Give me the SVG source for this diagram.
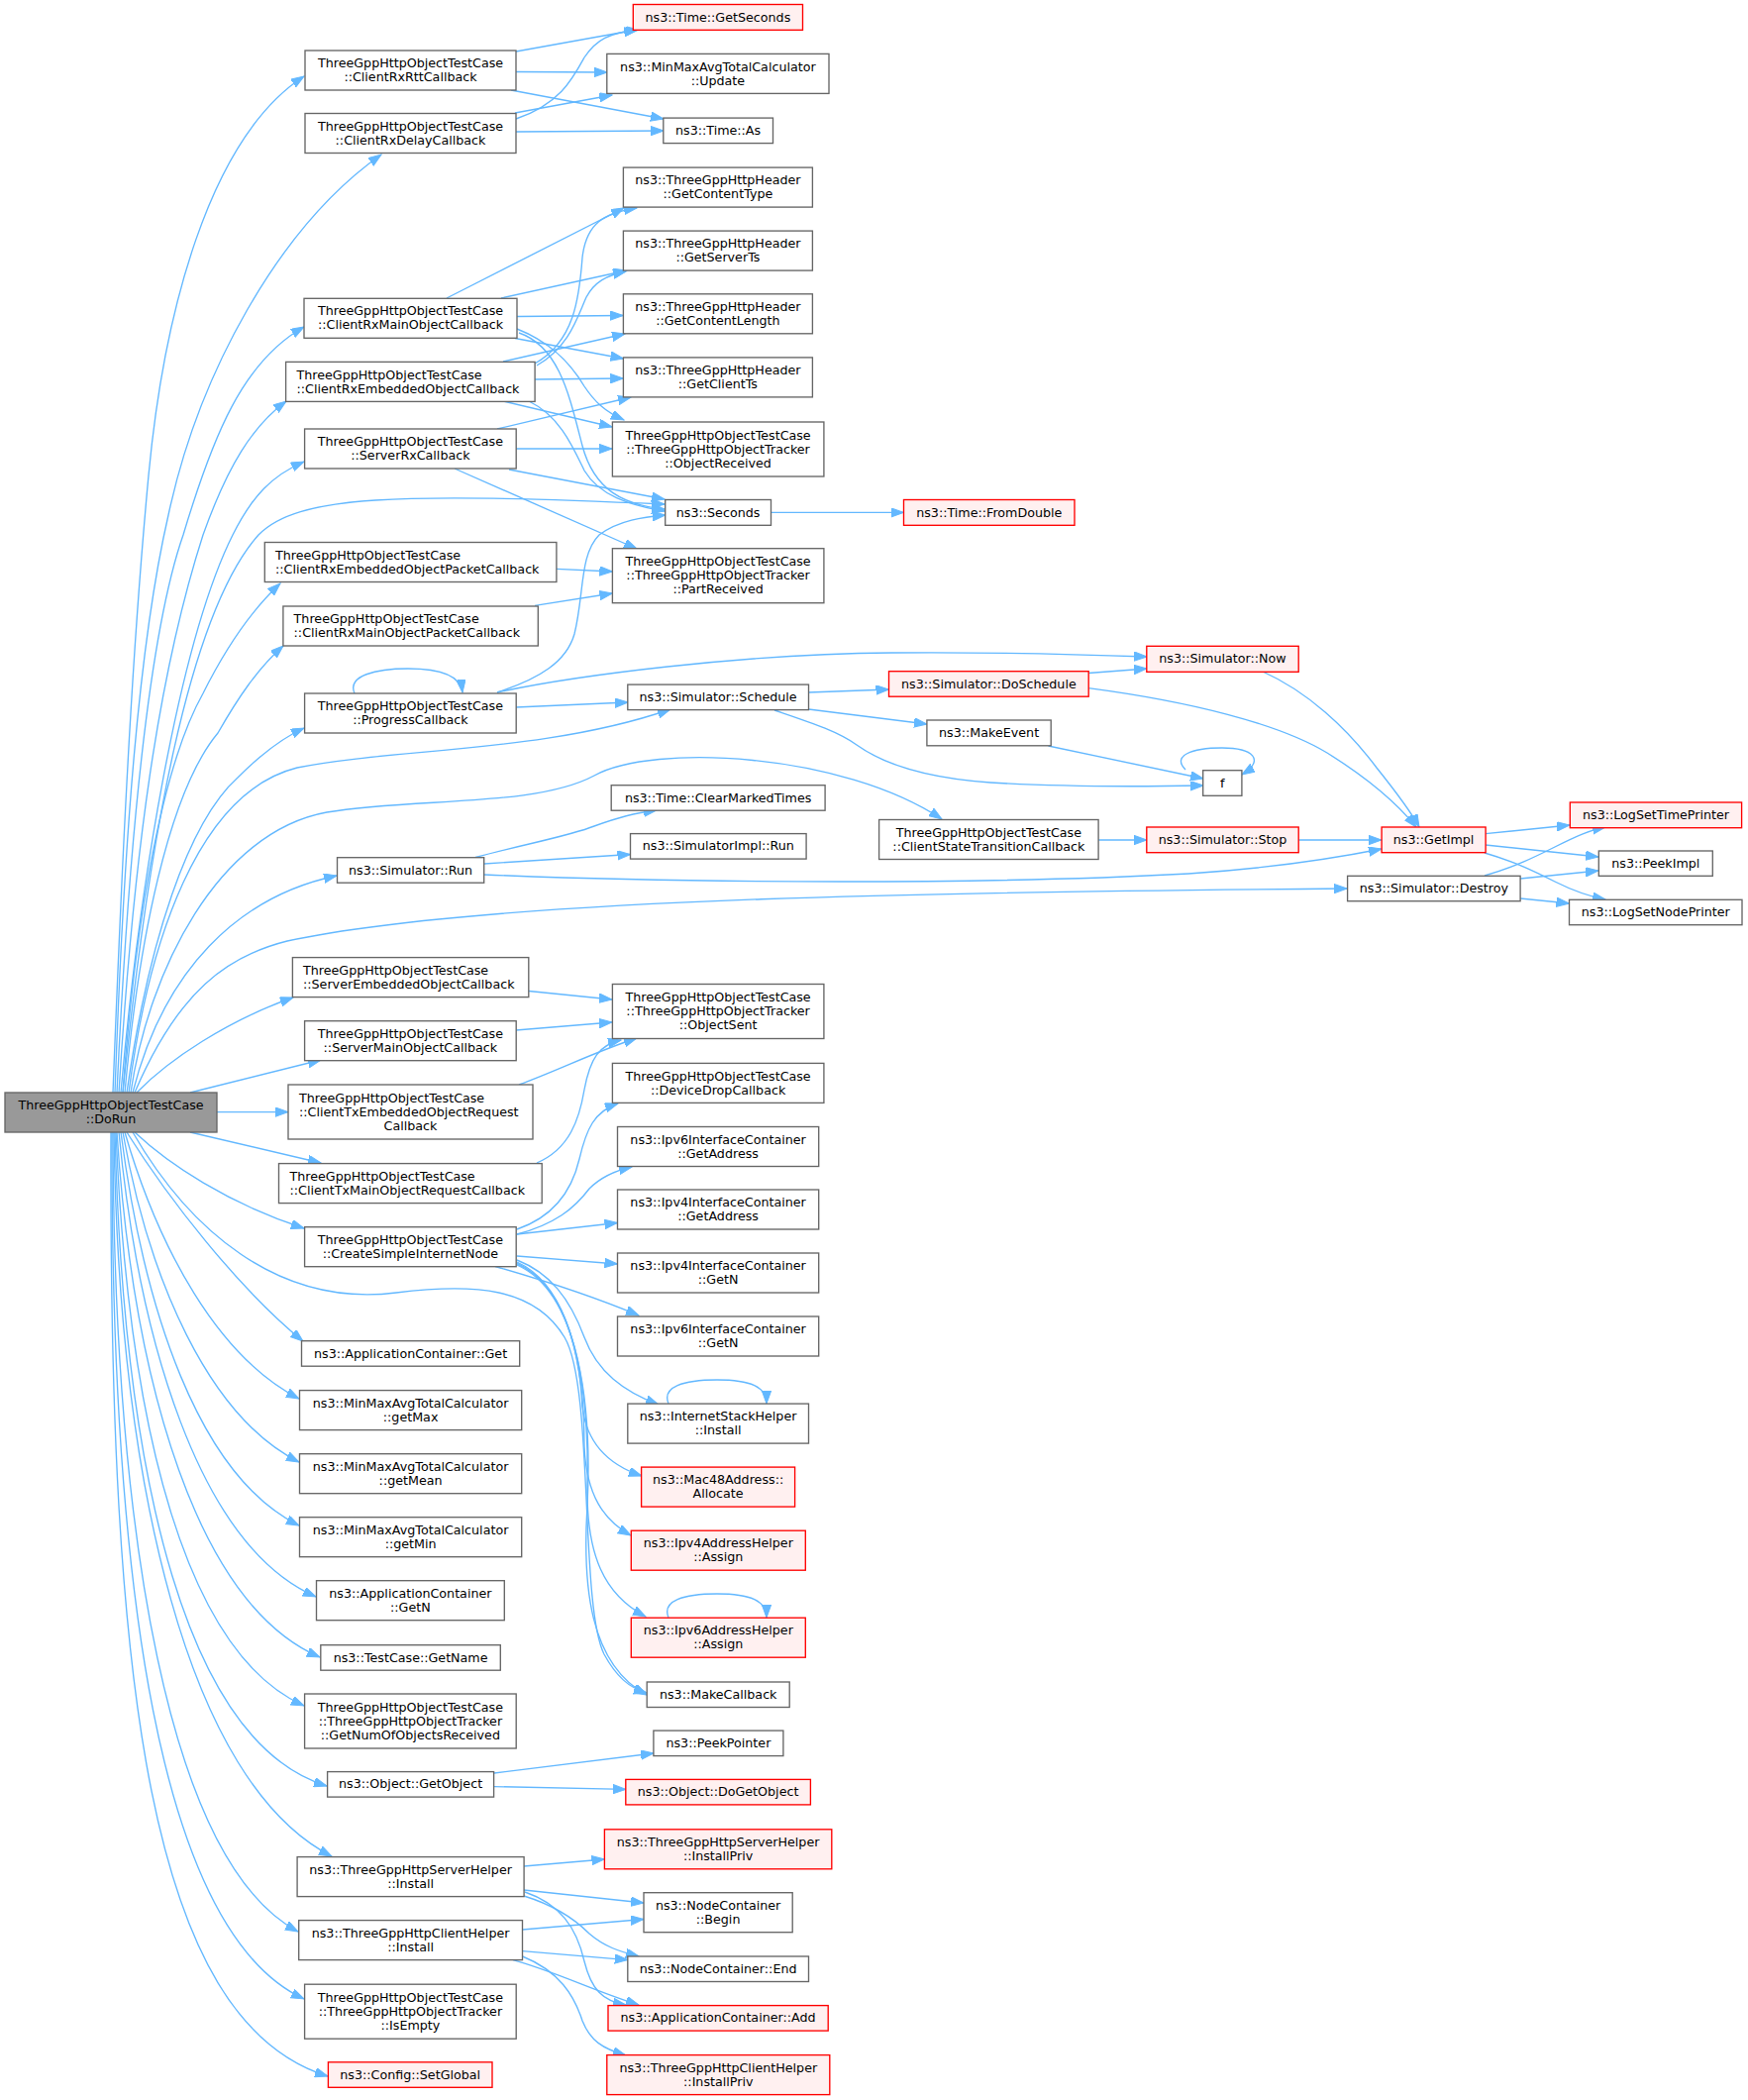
<svg xmlns="http://www.w3.org/2000/svg" width="1765" height="2120" viewBox="0 0 1765 2120">
<style>
rect{fill:#ffffff;stroke:#666666;stroke-width:1.35}
.r rect{fill:#fff0f0;stroke:#ff0000}
.root rect{fill:#999999;stroke:#666666}
text{font-family:"DejaVu Sans","Liberation Sans",sans-serif;font-size:12.7px;fill:#000000}
.c text{text-anchor:middle}
.l text{text-anchor:start}
#edges path{fill:none;stroke:#63b8ff;stroke-width:1.35;marker-end:url(#a)}
</style>
<defs>
<marker id="a" markerUnits="userSpaceOnUse" viewBox="0 0 14 10" markerWidth="14" markerHeight="10" refX="13" refY="4.7" orient="auto">
<path d="M0,0 L13,4.7 L0,9.4 z" fill="#63b8ff" stroke="#63b8ff" stroke-width="1"/>
</marker>
</defs>
<rect x="0" y="0" width="1765" height="2120" style="fill:#ffffff;stroke:none"/>
<g id="edges">
<path d="M114,1103 C125,820 135,640 150,480 C165,320 210,140 307,77"/>
<path d="M116,1103 C125,850 140,650 170,520 C200,380 280,230 385,156"/>
<path d="M118,1103 C130,850 150,640 185,540 C215,440 245,365 307,330"/>
<path d="M120,1103 C135,860 160,680 205,540 C230,470 255,430 289,405"/>
<path d="M122,1103 C140,900 180,650 235,540 C255,500 275,480 307,466"/>
<path d="M124,1103 C150,850 190,620 261,540 C300,500 400,497 671,509"/>
<path d="M124,1103 C135,950 160,780 205,700 C230,650 255,615 283,589"/>
<path d="M126,1103 C140,950 170,800 220,740 C240,705 260,675 286,652"/>
<path d="M128,1103 C150,950 190,830 240,785 C265,760 285,745 307,735"/>
<path d="M130,1103 C150,950 200,800 300,775 C400,755 550,760 677,716"/>
<path d="M132,1103 C150,980 220,840 330,820 C420,805 540,815 600,783 C660,750 850,760 951,827"/>
<path d="M134,1103 C165,980 240,905 340,884"/>
<path d="M136,1103 C180,1000 230,965 290,950 C500,905 1000,900 1360,897"/>
<path d="M138,1103 C170,1070 230,1030 296,1007"/>
<path d="M192,1103 L324,1070"/>
<path d="M219,1122.6 L291,1122.6"/>
<path d="M192,1143 L324,1174"/>
<path d="M136,1143 C170,1175 230,1215 307,1240"/>
<path d="M134,1143 C190,1240 280,1320 400,1305 C480,1295 540,1300 570,1350 C600,1400 585,1620 610,1670 C622,1692 635,1704 653,1709"/>
<path d="M128,1143 C170,1210 240,1300 306,1354"/>
<path d="M126,1143 C160,1260 220,1370 302,1412"/>
<path d="M124,1143 C150,1290 210,1430 302,1476"/>
<path d="M122,1143 C145,1320 200,1490 302,1540"/>
<path d="M120,1143 C140,1350 200,1560 319,1612"/>
<path d="M118,1143 C135,1400 200,1620 323,1673"/>
<path d="M117,1143 C130,1450 190,1670 307,1722"/>
<path d="M116,1143 C125,1500 190,1760 330,1803"/>
<path d="M115,1143 C120,1500 190,1800 335,1874"/>
<path d="M114,1143 C115,1550 170,1880 301,1950"/>
<path d="M113,1143 C112,1600 160,1950 307,2018"/>
<path d="M112,1143 C110,1700 150,2040 331,2096"/>
<path d="M521,52 L643,30"/>
<path d="M521,72.5 L613,73"/>
<path d="M516,91 L670,120"/>
<path d="M521,120 C565,105 578,80 590,58 C602,40 615,33 645,30"/>
<path d="M520,114 L618,96"/>
<path d="M521,133 L670,132"/>
<path d="M451,301 L630,210"/>
<path d="M506,301 L633,273"/>
<path d="M522,319.5 L629,318.5"/>
<path d="M520,341.5 L629.5,362"/>
<path d="M522,332 C555,345 575,365 590,390 C600,405 610,415 630,424"/>
<path d="M524,336 C565,350 575,400 588,450 C600,495 630,510 671,514"/>
<path d="M540,367 C580,345 585,300 588,260 C592,225 610,215 643,210"/>
<path d="M542,369 C575,350 583,320 592,300 C600,285 612,278 632,274"/>
<path d="M508,365 L631,337"/>
<path d="M540,383 L629.4,382"/>
<path d="M508,405 L618,431"/>
<path d="M534,405 C565,420 578,450 590,475 C605,500 635,510 671,516"/>
<path d="M502,433 L637,401"/>
<path d="M521,453 L618,453"/>
<path d="M514,474 L671,504"/>
<path d="M459,473 L643,554"/>
<path d="M778.5,517.4 L912.5,517.4"/>
<path d="M562,574.4 L618.4,577"/>
<path d="M540,611.3 L618.4,599"/>
<path d="M358,700 C350,682 380,675 412,675 C445,675 465,682 467,699"/>
<path d="M502,699 C545,685 572,668 580,640 C590,600 585,560 605,540 C625,525 650,522 672,520"/>
<path d="M502,699 C580,682 750,660 900,659 C1000,658 1100,661 1158,663"/>
<path d="M521,714 L634,709"/>
<path d="M816.5,699 L897.5,696"/>
<path d="M816.5,716 L936,731"/>
<path d="M782,717 C820,730 845,738 865,752 C890,770 930,785 1000,790 C1080,795 1160,794 1215,793"/>
<path d="M1099,679.5 L1158,675"/>
<path d="M1099,694.6 C1200,708 1290,730 1340,760 C1380,785 1410,810 1430,835"/>
<path d="M1058.5,753 L1215,786"/>
<path d="M1197,777 C1183,763 1203,755 1234,755 C1265,755 1278,767 1254,782"/>
<path d="M1275,678 C1320,698 1360,735 1390,775 C1410,800 1425,820 1433,835"/>
<path d="M1109,848 L1158,848"/>
<path d="M1311,848 L1395,848"/>
<path d="M489,883 C700,892 1000,893 1200,882 C1290,876 1350,866 1395,857"/>
<path d="M480,865.5 C530,852 575,844 600,834 C625,825 640,821 663,818"/>
<path d="M489,872 L636.5,862.5"/>
<path d="M1500,841.7 L1585,833"/>
<path d="M1500,853 L1614,865"/>
<path d="M1499,861 C1530,870 1550,880 1570,890 C1590,900 1605,905 1621,908"/>
<path d="M1499,884 C1530,875 1550,865 1570,855 C1590,845 1605,838 1621,835"/>
<path d="M1535,887 L1614,879"/>
<path d="M1535,907 L1584.5,912"/>
<path d="M534,1000.5 L618,1009"/>
<path d="M521,1040 L618,1032"/>
<path d="M524,1095 C565,1080 600,1062 643,1048"/>
<path d="M542,1174 C575,1160 585,1130 590,1100 C596,1068 605,1055 627,1050"/>
<path d="M522,1241 C560,1228 578,1200 585,1170 C592,1140 600,1122 624,1114"/>
<path d="M522,1246 C560,1236 580,1220 595,1200 C607,1188 620,1182 638,1178"/>
<path d="M522,1246 L623.5,1234.5"/>
<path d="M522,1268 L623.5,1276"/>
<path d="M500,1278.5 C540,1290 590,1305 645,1328"/>
<path d="M522,1272 C555,1285 575,1310 590,1350 C603,1385 630,1405 665,1418"/>
<path d="M522,1274 C568,1295 585,1360 588,1420 C592,1455 612,1478 648,1490"/>
<path d="M522,1275 C575,1300 590,1380 590,1460 C592,1510 610,1535 637,1550"/>
<path d="M522,1276 C580,1300 595,1400 593,1500 C592,1570 610,1610 652,1632"/>
<path d="M522,1277 C585,1305 598,1420 593,1520 C588,1600 595,1680 653,1711"/>
<path d="M675,1417 C668,1400 690,1393 724,1393 C758,1393 774,1400 774,1417"/>
<path d="M675,1633 C668,1616 690,1609 724,1609 C758,1609 774,1616 774,1633"/>
<path d="M499,1790 L660,1770"/>
<path d="M499,1803.6 L632,1806.4"/>
<path d="M529,1884 L610.4,1877"/>
<path d="M529,1908 L650,1921"/>
<path d="M529,1914 C555,1922 578,1935 595,1952 C610,1965 625,1970 645,1975"/>
<path d="M530,1910 C565,1922 582,1945 590,1980 C597,2008 608,2020 632,2024"/>
<path d="M527.5,1948 L650,1937.5"/>
<path d="M527.5,1969.6 L633.8,1978.6"/>
<path d="M518,1978.6 C560,1990 600,2010 645,2024"/>
<path d="M527.5,1975 C565,1990 580,2015 588,2040 C596,2060 608,2068 632,2075"/>
</g>
<g id="n_dorun" class="root c"><rect x="5" y="1103" width="214" height="40"/><text x="112" y="1120.1">ThreeGppHttpObjectTestCase</text><text x="112" y="1134.1">::DoRun</text></g>
<g id="n_rtt" class="c"><rect x="308" y="51" width="213" height="40"/><text x="414.5" y="68.1">ThreeGppHttpObjectTestCase</text><text x="414.5" y="82.1">::ClientRxRttCallback</text></g>
<g id="n_delay" class="c"><rect x="308" y="114.5" width="213" height="40"/><text x="414.5" y="131.6">ThreeGppHttpObjectTestCase</text><text x="414.5" y="145.6">::ClientRxDelayCallback</text></g>
<g id="n_mainobj" class="c"><rect x="307" y="301.3" width="215" height="40"/><text x="414.5" y="318.4">ThreeGppHttpObjectTestCase</text><text x="414.5" y="332.4">::ClientRxMainObjectCallback</text></g>
<g id="n_embobj" class="l"><rect x="288.6" y="365.4" width="251.5" height="40"/><text x="299.5" y="382.5">ThreeGppHttpObjectTestCase</text><text x="299.5" y="396.5">::ClientRxEmbeddedObjectCallback</text></g>
<g id="n_serverrx" class="c"><rect x="307.6" y="433" width="213.6" height="40"/><text x="414.4" y="450.1">ThreeGppHttpObjectTestCase</text><text x="414.4" y="464.1">::ServerRxCallback</text></g>
<g id="n_embpkt" class="l"><rect x="267.3" y="547.5" width="294.6" height="40"/><text x="278" y="564.6">ThreeGppHttpObjectTestCase</text><text x="278" y="578.6">::ClientRxEmbeddedObjectPacketCallback</text></g>
<g id="n_mainpkt" class="l"><rect x="285.9" y="612" width="257.4" height="40"/><text x="296.6" y="629.1">ThreeGppHttpObjectTestCase</text><text x="296.6" y="643.1">::ClientRxMainObjectPacketCallback</text></g>
<g id="n_progress" class="c"><rect x="307.6" y="700" width="213.6" height="40"/><text x="414.4" y="717.1">ThreeGppHttpObjectTestCase</text><text x="414.4" y="731.1">::ProgressCallback</text></g>
<g id="n_simrun" class="c"><rect x="340.5" y="865.7" width="148.2" height="25.5"/><text x="414.6" y="882.5">ns3::Simulator::Run</text></g>
<g id="n_serveremb" class="l"><rect x="295.4" y="966.6" width="238.4" height="40"/><text x="306" y="983.7">ThreeGppHttpObjectTestCase</text><text x="306" y="997.7">::ServerEmbeddedObjectCallback</text></g>
<g id="n_servermain" class="c"><rect x="307.6" y="1030.7" width="213.6" height="40"/><text x="414.4" y="1047.8">ThreeGppHttpObjectTestCase</text><text x="414.4" y="1061.8">::ServerMainObjectCallback</text></g>
<g id="n_txemb"><rect x="291" y="1095" width="247" height="55"/><text x="302" y="1112.6">ThreeGppHttpObjectTestCase</text><text x="302" y="1126.6">::ClientTxEmbeddedObjectRequest</text><text x="414.5" y="1140.6" style="text-anchor:middle">Callback</text></g>
<g id="n_txmain" class="l"><rect x="281.5" y="1174.6" width="265.7" height="40"/><text x="292.5" y="1191.7">ThreeGppHttpObjectTestCase</text><text x="292.5" y="1205.7">::ClientTxMainObjectRequestCallback</text></g>
<g id="n_create" class="c"><rect x="307.6" y="1238.7" width="213.6" height="40"/><text x="414.4" y="1255.8">ThreeGppHttpObjectTestCase</text><text x="414.4" y="1269.8">::CreateSimpleInternetNode</text></g>
<g id="n_appget" class="c"><rect x="304.5" y="1353.7" width="220.2" height="25.5"/><text x="414.6" y="1370.5">ns3::ApplicationContainer::Get</text></g>
<g id="n_getmax" class="c"><rect x="302.5" y="1403.6" width="224.2" height="40"/><text x="414.6" y="1420.7">ns3::MinMaxAvgTotalCalculator</text><text x="414.6" y="1434.7">::getMax</text></g>
<g id="n_getmean" class="c"><rect x="302.5" y="1467.7" width="224.2" height="40"/><text x="414.6" y="1484.8">ns3::MinMaxAvgTotalCalculator</text><text x="414.6" y="1498.8">::getMean</text></g>
<g id="n_getmin" class="c"><rect x="302.5" y="1531.7" width="224.2" height="40"/><text x="414.6" y="1548.8">ns3::MinMaxAvgTotalCalculator</text><text x="414.6" y="1562.8">::getMin</text></g>
<g id="n_appgetn" class="c"><rect x="319.5" y="1595.7" width="189.8" height="40"/><text x="414.4" y="1612.8">ns3::ApplicationContainer</text><text x="414.4" y="1626.8">::GetN</text></g>
<g id="n_getname" class="c"><rect x="323.8" y="1660.7" width="181.5" height="25.5"/><text x="414.6" y="1677.5">ns3::TestCase::GetName</text></g>
<g id="n_getnum" class="c"><rect x="307.6" y="1710" width="213.6" height="55"/><text x="414.4" y="1727.6">ThreeGppHttpObjectTestCase</text><text x="414.4" y="1741.6">::ThreeGppHttpObjectTracker</text><text x="414.4" y="1755.6">::GetNumOfObjectsReceived</text></g>
<g id="n_getobject" class="c"><rect x="330.6" y="1788.6" width="168" height="25.5"/><text x="414.6" y="1805.4">ns3::Object::GetObject</text></g>
<g id="n_serverinst" class="c"><rect x="300.1" y="1874.6" width="229" height="40"/><text x="414.6" y="1891.7">ns3::ThreeGppHttpServerHelper</text><text x="414.6" y="1905.7">::Install</text></g>
<g id="n_clientinst" class="c"><rect x="301.7" y="1938.6" width="225.8" height="40"/><text x="414.6" y="1955.7">ns3::ThreeGppHttpClientHelper</text><text x="414.6" y="1969.7">::Install</text></g>
<g id="n_isempty" class="c"><rect x="307.6" y="2003.2" width="213.6" height="55"/><text x="414.4" y="2020.8">ThreeGppHttpObjectTestCase</text><text x="414.4" y="2034.8">::ThreeGppHttpObjectTracker</text><text x="414.4" y="2048.8">::IsEmpty</text></g>
<g id="n_setglobal" class="r c"><rect x="331.4" y="2081.8" width="165.6" height="25.5"/><text x="414.2" y="2098.6">ns3::Config::SetGlobal</text></g>
<g id="n_getseconds" class="r c"><rect x="639.3" y="4.5" width="171.2" height="25.8"/><text x="724.9" y="21.5">ns3::Time::GetSeconds</text></g>
<g id="n_update" class="c"><rect x="612.8" y="54.4" width="224.2" height="40"/><text x="724.9" y="71.5">ns3::MinMaxAvgTotalCalculator</text><text x="724.9" y="85.5">::Update</text></g>
<g id="n_timeas" class="c"><rect x="669.8" y="119.1" width="110.7" height="25.5"/><text x="725.1" y="135.9">ns3::Time::As</text></g>
<g id="n_contenttype" class="c"><rect x="629.4" y="169.1" width="191" height="40"/><text x="724.9" y="186.2">ns3::ThreeGppHttpHeader</text><text x="724.9" y="200.2">::GetContentType</text></g>
<g id="n_serverts" class="c"><rect x="629.4" y="233.1" width="191" height="40"/><text x="724.9" y="250.2">ns3::ThreeGppHttpHeader</text><text x="724.9" y="264.2">::GetServerTs</text></g>
<g id="n_contentlength" class="c"><rect x="629.4" y="296.8" width="191" height="40"/><text x="724.9" y="313.9">ns3::ThreeGppHttpHeader</text><text x="724.9" y="327.9">::GetContentLength</text></g>
<g id="n_clientts" class="c"><rect x="629.4" y="360.9" width="191" height="40"/><text x="724.9" y="378">ns3::ThreeGppHttpHeader</text><text x="724.9" y="392">::GetClientTs</text></g>
<g id="n_objrecv" class="c"><rect x="618.4" y="426" width="213.5" height="55"/><text x="725.1" y="443.6">ThreeGppHttpObjectTestCase</text><text x="725.1" y="457.6">::ThreeGppHttpObjectTracker</text><text x="725.1" y="471.6">::ObjectReceived</text></g>
<g id="n_seconds" class="c"><rect x="671.7" y="504.5" width="106.8" height="25.8"/><text x="725.1" y="521.5">ns3::Seconds</text></g>
<g id="n_partrecv" class="c"><rect x="618.4" y="553.7" width="213.5" height="55"/><text x="725.1" y="571.3">ThreeGppHttpObjectTestCase</text><text x="725.1" y="585.3">::ThreeGppHttpObjectTracker</text><text x="725.1" y="599.3">::PartReceived</text></g>
<g id="n_schedule" class="c"><rect x="633.8" y="691.1" width="182.7" height="25.5"/><text x="725.1" y="707.9">ns3::Simulator::Schedule</text></g>
<g id="n_clearmarked" class="c"><rect x="617.2" y="792.7" width="215.9" height="25.5"/><text x="725.1" y="809.5">ns3::Time::ClearMarkedTimes</text></g>
<g id="n_simimplrun" class="c"><rect x="636.5" y="841.6" width="177.6" height="25.5"/><text x="725.3" y="858.4">ns3::SimulatorImpl::Run</text></g>
<g id="n_objsent" class="c"><rect x="618.4" y="993.5" width="213.5" height="55"/><text x="725.1" y="1011.1">ThreeGppHttpObjectTestCase</text><text x="725.1" y="1025.1">::ThreeGppHttpObjectTracker</text><text x="725.1" y="1039.1">::ObjectSent</text></g>
<g id="n_devdrop" class="c"><rect x="618.4" y="1073.4" width="213.5" height="40"/><text x="725.1" y="1090.5">ThreeGppHttpObjectTestCase</text><text x="725.1" y="1104.5">::DeviceDropCallback</text></g>
<g id="n_ipv6addr" class="c"><rect x="623.5" y="1137.5" width="203.2" height="40"/><text x="725.1" y="1154.6">ns3::Ipv6InterfaceContainer</text><text x="725.1" y="1168.6">::GetAddress</text></g>
<g id="n_ipv4addr" class="c"><rect x="623.5" y="1201" width="203.2" height="40"/><text x="725.1" y="1218.1">ns3::Ipv4InterfaceContainer</text><text x="725.1" y="1232.1">::GetAddress</text></g>
<g id="n_ipv4n" class="c"><rect x="623.5" y="1265" width="203.2" height="40"/><text x="725.1" y="1282.1">ns3::Ipv4InterfaceContainer</text><text x="725.1" y="1296.1">::GetN</text></g>
<g id="n_ipv6n" class="c"><rect x="623.5" y="1329" width="203.2" height="40"/><text x="725.1" y="1346.1">ns3::Ipv6InterfaceContainer</text><text x="725.1" y="1360.1">::GetN</text></g>
<g id="n_ishinst" class="c"><rect x="633.8" y="1417.1" width="182.7" height="40"/><text x="725.1" y="1434.2">ns3::InternetStackHelper</text><text x="725.1" y="1448.2">::Install</text></g>
<g id="n_mac48" class="r c"><rect x="647.6" y="1481.1" width="155" height="40"/><text x="725.1" y="1498.2">ns3::Mac48Address::</text><text x="725.1" y="1512.2">Allocate</text></g>
<g id="n_ipv4assign" class="r c"><rect x="637.3" y="1545.2" width="176" height="40"/><text x="725.3" y="1562.3">ns3::Ipv4AddressHelper</text><text x="725.3" y="1576.3">::Assign</text></g>
<g id="n_ipv6assign" class="r c"><rect x="637.3" y="1633.2" width="176" height="40"/><text x="725.3" y="1650.3">ns3::Ipv6AddressHelper</text><text x="725.3" y="1664.3">::Assign</text></g>
<g id="n_makecallback" class="c"><rect x="653.2" y="1698" width="144" height="25.5"/><text x="725.2" y="1714.8">ns3::MakeCallback</text></g>
<g id="n_peekpointer" class="c"><rect x="659.9" y="1747.1" width="131" height="25.5"/><text x="725.4" y="1763.9">ns3::PeekPointer</text></g>
<g id="n_dogetobject" class="r c"><rect x="631.8" y="1796.4" width="186.6" height="25.5"/><text x="725.1" y="1813.2">ns3::Object::DoGetObject</text></g>
<g id="n_serverpriv" class="r c"><rect x="610.4" y="1846.8" width="229.4" height="40"/><text x="725.1" y="1863.9">ns3::ThreeGppHttpServerHelper</text><text x="725.1" y="1877.9">::InstallPriv</text></g>
<g id="n_ncbegin" class="c"><rect x="650" y="1910.7" width="150.2" height="40"/><text x="725.1" y="1927.8">ns3::NodeContainer</text><text x="725.1" y="1941.8">::Begin</text></g>
<g id="n_ncend" class="c"><rect x="633.8" y="1975" width="182.7" height="25.5"/><text x="725.1" y="1991.8">ns3::NodeContainer::End</text></g>
<g id="n_appadd" class="r c"><rect x="614" y="2024.6" width="222.2" height="25.5"/><text x="725.1" y="2041.4">ns3::ApplicationContainer::Add</text></g>
<g id="n_clientpriv" class="r c"><rect x="612.8" y="2074.6" width="225" height="40"/><text x="725.3" y="2091.7">ns3::ThreeGppHttpClientHelper</text><text x="725.3" y="2105.7">::InstallPriv</text></g>
<g id="n_fromdouble" class="r c"><rect x="912.5" y="504.5" width="172.5" height="25.8"/><text x="998.8" y="521.5">ns3::Time::FromDouble</text></g>
<g id="n_doschedule" class="r c"><rect x="897.5" y="677.7" width="201.7" height="25.5"/><text x="998.4" y="694.5">ns3::Simulator::DoSchedule</text></g>
<g id="n_makeevent" class="c"><rect x="935.9" y="727" width="125.3" height="25.8"/><text x="998.6" y="744">ns3::MakeEvent</text></g>
<g id="n_clientstate" class="c"><rect x="887.6" y="827.5" width="221.5" height="40"/><text x="998.4" y="844.6">ThreeGppHttpObjectTestCase</text><text x="998.4" y="858.6">::ClientStateTransitionCallback</text></g>
<g id="n_now" class="r c"><rect x="1157.8" y="652.3" width="153.4" height="26"/><text x="1234.5" y="669.4">ns3::Simulator::Now</text></g>
<g id="n_f" class="c"><rect x="1214.7" y="777.7" width="39.2" height="25.6"/><text x="1234.3" y="794.6">f</text></g>
<g id="n_stop" class="r c"><rect x="1157.8" y="835" width="153.4" height="25.7"/><text x="1234.5" y="851.9">ns3::Simulator::Stop</text></g>
<g id="n_destroy" class="c"><rect x="1360.6" y="884.3" width="174.5" height="25.4"/><text x="1447.9" y="901.1">ns3::Simulator::Destroy</text></g>
<g id="n_getimpl" class="r c"><rect x="1395.1" y="835" width="105" height="25.7"/><text x="1447.6" y="851.9">ns3::GetImpl</text></g>
<g id="n_logtime" class="r c"><rect x="1585.3" y="810" width="173.3" height="25.7"/><text x="1672" y="826.9">ns3::LogSetTimePrinter</text></g>
<g id="n_peekimpl" class="c"><rect x="1614.3" y="859" width="115" height="25.3"/><text x="1671.8" y="875.7">ns3::PeekImpl</text></g>
<g id="n_lognode" class="c"><rect x="1584.5" y="908.3" width="174.5" height="25.4"/><text x="1671.8" y="925.1">ns3::LogSetNodePrinter</text></g>
</svg>
